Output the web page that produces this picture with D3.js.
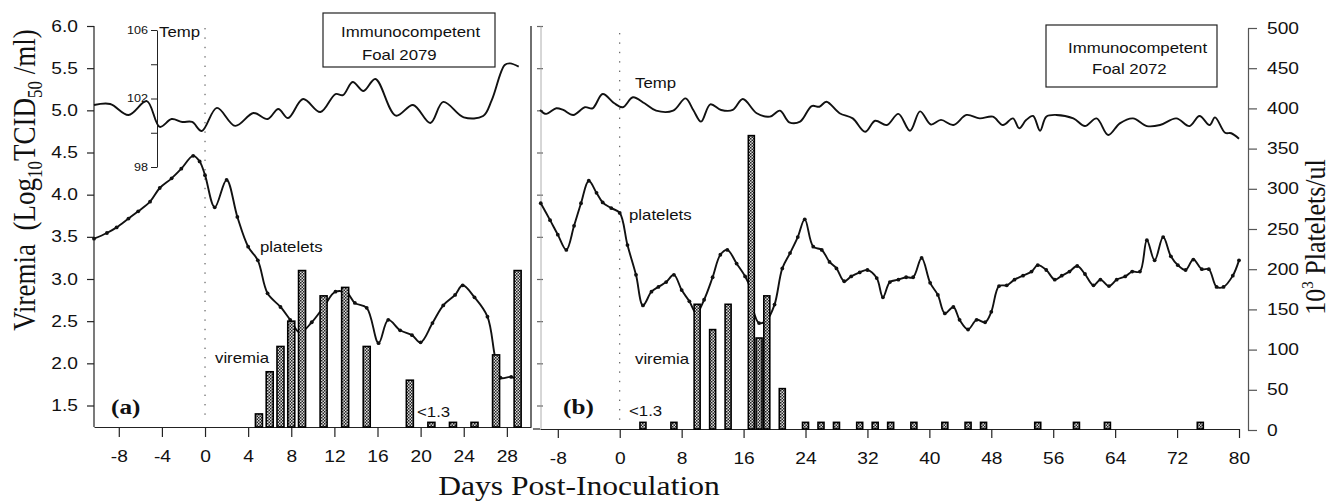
<!DOCTYPE html>
<html>
<head>
<meta charset="utf-8">
<script src="https://cdn.jsdelivr.net/npm/d3@7"></script>
<style>
  body { margin: 0; background: #fff; }
  svg { display: block; }
  .sans { font-family: "Liberation Sans", Arial, sans-serif; }
  .serif { font-family: "Liberation Serif", "Times New Roman", serif; }
</style>
</head>
<body>
<div id="chart"></div>
<script>
const width = 1333, height = 503;

// ---- panel (a) : foal 2079 ----
const virDaysA = [5, 6, 7, 8, 9, 11, 13, 15, 19, 21, 23, 25, 27, 29];
const virValsA = [1.4, 1.9, 2.2, 2.5, 3.1, 2.8, 2.9, 2.2, 1.8, 1.3, 1.3, 1.3, 2.1, 3.1];

const pltDaysA = [-10.3, -9.1, -8.2, -7.1, -6.2, -5.1, -4.2, -3.1, -2.2, -1.1, -0.5, 0, 0.9, 2.0, 3.0, 4.0, 4.9, 5.8, 7.0, 7.9,
                  8.8, 9.9, 11.0, 12.1, 13.2, 13.9, 15.0, 16.1, 17.0, 18.1, 19.2, 20.0, 21.1, 22.1, 23.2, 23.9, 25.0, 26.2, 26.9, 27.4,
                  28.4, 29.2];
const pltValsA = [238, 245, 252, 263, 272, 284, 301, 313, 325, 341, 334, 317, 277, 311, 265, 228, 211, 170, 153, 137,
                  121, 134, 153, 172, 170, 158, 152, 108, 137, 124, 118, 109, 133, 155, 168, 180, 165, 141, 91, 65,
                  66, 60];

const tmpDaysA = [-10.3, -8.8, -7.1, -5.4, -4.2, -3.1, -2.1, -1.2, -0.3, 1.1, 2.8, 4.5, 5.8, 6.8, 7.7, 9.1, 10.7, 12.1, 12.8, 13.7,
                  14.7, 15.8, 17.7, 19.3, 20.9, 22.1, 24.0, 25.8, 26.6, 27.8, 28.3, 29.1];
const tmpValsA = [101.62, 101.68, 101.04, 101.85, 100.34, 100.8, 100.63, 100.63, 100.1, 101.45, 100.4, 101.15, 100.8, 101.39, 100.86, 101.97, 101.21, 102.26, 102.2, 102.96,
                  102.44, 103.14, 101.0, 101.62, 100.57, 101.8, 100.9, 100.98, 101.91, 103.96, 104.05, 103.86];

// ---- panel (b) : foal 2072 ----
const virDaysB = [3, 7, 10, 12, 14, 17, 18, 19, 21, 24, 26, 28, 31, 33, 35, 38, 42, 45, 47, 54, 59, 63, 75];
const virValsB = [1.3, 1.3, 2.7, 2.4, 2.7, 4.7, 2.3, 2.8, 1.7, 1.3, 1.3, 1.3, 1.3, 1.3, 1.3, 1.3, 1.3, 1.3, 1.3, 1.3, 1.3, 1.3, 1.3];

const pltDaysB = [-10.2, -9.0, -8.0, -6.9, -5.9, -5.0, -4.0, -3.0, -2.2, -1.1, 0, 1.0, 2.1, 3.0, 4.1, 5.0, 6.0, 7.0, 8.0, 9.0,
                  9.9, 10.9, 12.0, 13.0, 13.9, 15.1, 16.2, 16.8, 17.2, 18.0, 19.0, 20.0, 21.0, 22.0, 23.0, 23.9, 25.0, 26.1, 27.1, 28.0,
                  29.0, 29.9, 31.0, 32.0, 33.2, 34.0, 34.9, 36.0, 37.0, 37.9, 39.0, 40.1, 41.1, 42.0, 43.1, 43.9, 45.0, 46.1, 47.2, 48.0,
                  49.0, 50.0, 51.0, 52.1, 53.2, 54.0, 55.1, 56.2, 57.1, 58.1, 59.1, 60.1, 61.2, 62.1, 63.2, 64.2, 65.3, 66.2, 67.2, 68.1,
                  69.1, 70.2, 71.2, 72.1, 73.1, 74.1, 75.2, 76.1, 77.1, 78.0, 79.2, 80.0];
const pltValsB = [282, 261, 243, 224, 254, 282, 310, 295, 283, 276, 270, 230, 193, 155, 172, 178, 184, 193, 174, 160,
                  145, 162, 190, 218, 224, 207, 191, 178, 151, 133, 137, 156, 201, 220, 240, 262, 228, 224, 209, 201,
                  185, 191, 196, 199, 189, 165, 184, 187, 190, 190, 214, 183, 168, 145, 153, 137, 125, 137, 134, 147,
                  179, 180, 187, 192, 197, 205, 199, 187, 192, 197, 204, 194, 180, 187, 179, 187, 191, 197, 197, 236,
                  211, 240, 216, 205, 199, 212, 200, 200, 178, 178, 192, 211];

const tmpDaysB = [-10.3, -9.5, -8.2, -7.3, -6.0, -4.5, -3.5, -2.2, -0.7, 0.4, 1.7, 3.2, 4.7, 6.9, 8.5, 9.5, 10.5, 11.7, 13.1, 14.6,
                  15.9, 17.7, 19.4, 20.7, 21.9, 23.3, 24.8, 25.8, 26.7, 28.4, 30.1, 31.7, 33.0, 34.5, 36.0, 37.5, 38.8, 40.2, 41.5, 43.1,
                  44.8, 46.5, 48.2, 49.5, 50.8, 51.6, 52.5, 53.4, 54.3, 55.1, 56.4, 58.6, 60.1, 61.6, 63.1, 64.6, 66.3, 68.1, 69.8, 71.9,
                  73.6, 74.9, 76.2, 76.9, 78.2, 79.0, 80.0];
const tmpValsB = [101.33, 101.1, 101.43, 101.33, 101.04, 101.49, 101.43, 102.26, 101.72, 101.49, 102.07, 101.72, 101.29, 101.29, 102.01, 101.33, 100.65, 101.66, 101.33, 101.33,
                  101.97, 101.14, 100.94, 101.29, 100.61, 100.65, 101.56, 101.52, 101.81, 101.14, 100.84, 100.06, 100.7, 100.45, 101.1, 100.12, 101.25, 100.48, 100.75, 100.45,
                  101.04, 100.84, 100.94, 100.45, 100.84, 100.26, 100.74, 100.98, 100.12, 100.94, 101.04, 100.84, 100.39, 100.84, 99.87, 100.55, 100.84, 100.39, 100.45, 100.84,
                  100.39, 100.98, 100.45, 100.9, 100.0, 99.97, 99.65];

// ---- tick labels ----
const virTicks = [1.5, 2.0, 2.5, 3.0, 3.5, 4.0, 4.5, 5.0, 5.5, 6.0];
const dayTicksA = [-8, -4, 0, 4, 8, 12, 16, 20, 24, 28];
const dayTicksB = [-8, 0, 8, 16, 24, 32, 40, 48, 56, 64, 72, 80];
const pltTicks = [0, 50, 100, 150, 200, 250, 300, 350, 400, 450, 500];
const tmpTicks = [98, 100, 102, 104, 106];
const tmpLabels = [98, 102, 106];

const zipper = (days, vals) => days.map((d, i) => ({day: d, v: vals[i]}));

const svg = d3.select("#chart").append("svg")
    .attr("width", width)
    .attr("height", height);

// stipple fill for the viremia bars
const pat = svg.append("defs").append("pattern")
    .attr("id", "stipple")
    .attr("patternUnits", "userSpaceOnUse")
    .attr("width", 3).attr("height", 3);
pat.append("rect").attr("width", 3).attr("height", 3).attr("fill", "#ddd");
pat.append("rect").attr("width", 1.5).attr("height", 1.5).attr("fill", "#222");
pat.append("rect").attr("x", 1.5).attr("y", 1.5).attr("width", 1.5).attr("height", 1.5).attr("fill", "#222");

// scales
const xA = d3.scaleLinear().domain([-10.3, 30.24]).range([94, 531]);
const xB = d3.scaleLinear().domain([-10.3, 80]).range([540, 1239]);
const vScale = d3.scaleLinear().domain([1.5, 6]).range([405.5, 26]);
const pScale = d3.scaleLinear().domain([0, 500]).range([430, 28]);
const tScale = d3.scaleLinear().domain([98, 106]).range([167, 30]);
const baseA = 427, baseB = 429;
const SX = 1.2;   // the scanned figure is stretched sideways

// keep text stretched like the scan, without moving its anchor
function stretch(sel, sx) {
    sel.each(function() {
        const t = d3.select(this);
        const x = +(t.attr("x") || 0);
        t.attr("x", x / sx).attr("transform", `scale(${sx},1)`);
    });
}

function label(txt, x, y, size, cls, weight) {
    return svg.append("text")
        .attr("class", cls || "sans")
        .attr("transform", `translate(${x},${y}) scale(${SX},1)`)
        .attr("font-size", size)
        .attr("font-weight", weight || "normal")
        .attr("fill", "#111")
        .text(txt);
}

function styleAxis(g, size) {
    g.selectAll("path, line").attr("stroke", "#222").attr("stroke-width", 1.2);
    g.selectAll("text").attr("class", "sans").attr("font-size", size).attr("fill", "#111").attr("font-family", null);
    stretch(g.selectAll("text"), SX);
}

const plain = d => String(d);   // hyphen minus, as in the scan

// dotted day-0 markers
svg.append("line").attr("x1", xA(0)).attr("x2", xA(0)).attr("y1", 28).attr("y2", baseA - 8)
    .attr("stroke", "#444").attr("stroke-dasharray", "1.4,8");
svg.append("line").attr("x1", xB(0)).attr("x2", xB(0)).attr("y1", 33).attr("y2", baseB - 8)
    .attr("stroke", "#444").attr("stroke-dasharray", "1.4,8");

// ---- axes ----
const gYA = svg.append("g").attr("transform", "translate(94,0)")
    .call(d3.axisLeft(vScale).tickValues(virTicks).tickFormat(d3.format(".1f")).tickSize(7).tickPadding(9))
    .call(g => g.select(".domain").remove());
styleAxis(gYA, 16);
svg.append("line").attr("x1", 94).attr("x2", 94).attr("y1", 26).attr("y2", baseA)
    .attr("stroke", "#222").attr("stroke-width", 1.2);

const gXA = svg.append("g").attr("transform", `translate(0,${baseA})`)
    .call(d3.axisBottom(xA).tickValues(dayTicksA).tickFormat(plain).tickSize(10).tickPadding(14).tickSizeOuter(0));
styleAxis(gXA, 16);

// right border of panel (a)
svg.append("line").attr("x1", 531).attr("x2", 531).attr("y1", 26).attr("y2", baseA)
    .attr("stroke", "#222").attr("stroke-width", 1.3);

// unlabelled viremia ticks on panel (b)
const gYB = svg.append("g").attr("transform", "translate(543,0)")
    .call(d3.axisLeft(vScale).tickValues(virTicks).tickFormat("").tickSize(6))
    .call(g => g.select(".domain").remove());
styleAxis(gYB, 16);
gYB.selectAll("line").attr("stroke", "#666");
svg.append("line").attr("x1", 541).attr("x2", 541).attr("y1", 26).attr("y2", baseB)
    .attr("stroke", "#999").attr("stroke-width", 0.8);

const gXB = svg.append("g").attr("transform", `translate(0,${baseB})`)
    .call(d3.axisBottom(xB).tickValues(dayTicksB).tickFormat(plain).tickSize(9).tickPadding(15).tickSizeOuter(0));
styleAxis(gXB, 16);
svg.append("line").attr("x1", 533).attr("x2", 540).attr("y1", baseB).attr("y2", baseB)
    .attr("stroke", "#222").attr("stroke-width", 1.2);

const gP = svg.append("g").attr("transform", "translate(1248,0)")
    .call(d3.axisRight(pScale).tickValues(pltTicks).tickSize(9).tickPadding(10).tickSizeOuter(0));
styleAxis(gP, 16);
gP.selectAll("path, line").attr("stroke", "#555");

// little temperature axis inside panel (a)
const gT = svg.append("g").attr("transform", "translate(157,0)")
    .call(d3.axisLeft(tScale).tickValues(tmpTicks)
        .tickFormat(d => tmpLabels.includes(d) ? d : "").tickSize(6).tickPadding(3).tickSizeOuter(0));
styleAxis(gT, 10.5);
gT.selectAll("path, line").attr("stroke-width", 1);

// ---- curves ----
const pltLine = x => d3.line().x(d => x(d.day)).y(d => pScale(d.v)).curve(d3.curveCatmullRom.alpha(0.5));
const tmpLine = x => d3.line().x(d => x(d.day)).y(d => tScale(d.v)).curve(d3.curveCatmullRom.alpha(0.5));

function drawPanel(x, tmp, plt, vir, base, barW) {
    svg.append("path").datum(tmp).attr("d", tmpLine(x))
        .attr("fill", "none").attr("stroke", "#111").attr("stroke-width", 1.9);
    svg.append("path").datum(plt).attr("d", pltLine(x))
        .attr("fill", "none").attr("stroke", "#111").attr("stroke-width", 1.9);
    svg.append("g").selectAll("circle")
        .data(plt)
        .enter()
        .append("circle")
        .attr("cx", d => x(d.day))
        .attr("cy", d => pScale(d.v))
        .attr("r", 1.9)
        .attr("fill", "#111");
    svg.append("g").selectAll("rect")
        .data(vir)
        .enter()
        .append("rect")
        .attr("x", d => x(d.day) - barW / 2)
        .attr("y", d => vScale(d.v))
        .attr("width", barW)
        .attr("height", d => base - vScale(d.v))
        .attr("fill", "url(#stipple)")
        .attr("stroke", "#000")
        .attr("stroke-width", 1.6);
}

drawPanel(xA, zipper(tmpDaysA, tmpValsA), zipper(pltDaysA, pltValsA), zipper(virDaysA, virValsA), baseA, 7);
drawPanel(xB, zipper(tmpDaysB, tmpValsB), zipper(pltDaysB, pltValsB), zipper(virDaysB, virValsB), baseB, 6);

// ---- boxes ----
svg.append("rect").attr("x", 323).attr("y", 13).attr("width", 172).attr("height", 54)
    .attr("fill", "#fff").attr("stroke", "#222").attr("stroke-width", 1.2);
label("Immunocompetent", 341, 37, 14);
label("Foal 2079", 362, 60, 14);

svg.append("rect").attr("x", 1046).attr("y", 25).attr("width", 171).attr("height", 62)
    .attr("fill", "#fff").attr("stroke", "#222").attr("stroke-width", 1.2);
label("Immunocompetent", 1068, 53, 14);
label("Foal 2072", 1092, 74, 14);

// ---- in-plot labels ----
label("Temp", 159, 37, 14);
label("platelets", 260, 252, 14);
label("viremia", 215, 363, 14);
label("<1.3", 417, 417, 14);
label("(a)", 111, 414, 21, "serif", "bold");

label("Temp", 635, 88, 14);
label("platelets", 629, 220, 14);
label("viremia", 635, 364, 14);
label("<1.3", 629, 416, 14);
label("(b)", 563, 414, 21, "serif", "bold");

// ---- axis titles ----
const yt = svg.append("text").attr("class", "serif").attr("font-size", 27).attr("fill", "#111")
    .attr("text-anchor", "middle")
    .attr("transform", `translate(35,180) scale(1.17,1) rotate(-90)`);
yt.append("tspan").text("Viremia\u00a0\u00a0(Log");
yt.append("tspan").attr("font-size", 17).attr("dy", 6).text("10");
yt.append("tspan").attr("dy", -6).text("TCID");
yt.append("tspan").attr("font-size", 17).attr("dy", 6).text("50");
yt.append("tspan").attr("dy", -6).text("\u00a0/ml)");

const rt = svg.append("text").attr("class", "serif").attr("font-size", 26).attr("fill", "#111")
    .attr("text-anchor", "middle")
    .attr("transform", `translate(1325,237) scale(1.12,1) rotate(-90)`);
rt.append("tspan").text("10");
rt.append("tspan").attr("font-size", 15).attr("dy", -11).text("3");
rt.append("tspan").attr("dy", 11).text("\u00a0Platelets/ul");

svg.append("text").attr("class", "serif").attr("font-size", 27).attr("fill", "#111")
    .attr("text-anchor", "middle")
    .attr("transform", `translate(579,495) scale(1.17,1)`)
    .text("Days Post-Inoculation");
</script>
</body>
</html>
